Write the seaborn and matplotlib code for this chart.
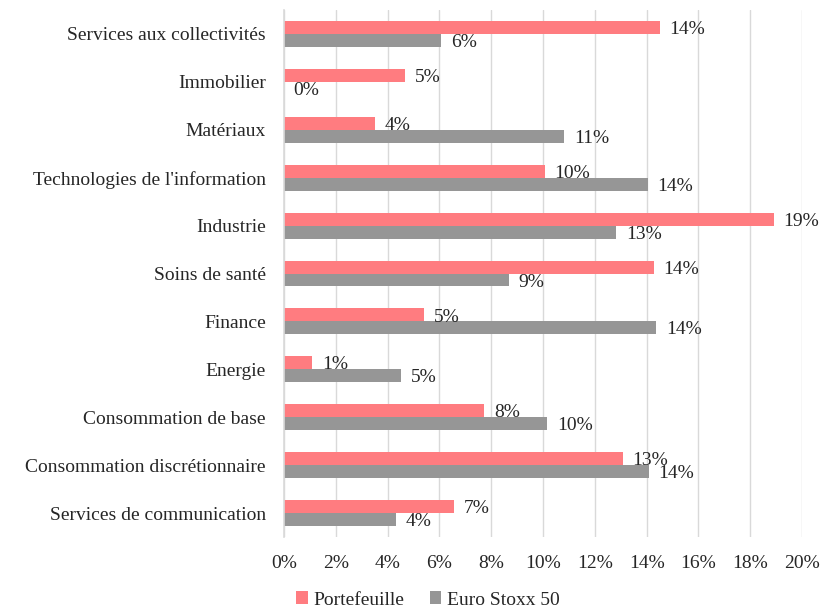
import matplotlib
matplotlib.use("Agg")
import matplotlib.pyplot as plt
from matplotlib.patches import Patch
from matplotlib.ticker import FuncFormatter, MultipleLocator
import seaborn as sns
import pandas as pd

categories = [
    "Services aux collectivités",
    "Immobilier",
    "Matériaux",
    "Technologies de l'information",
    "Industrie",
    "Soins de santé",
    "Finance",
    "Energie",
    "Consommation de base",
    "Consommation discrétionnaire",
    "Services de communication",
]
portefeuille = [14.5, 4.69, 3.52, 10.07, 18.91, 14.27, 5.42, 1.09, 7.74, 13.08, 6.56]
euro_stoxx = [6.07, 0.0, 10.82, 14.05, 12.83, 8.67, 14.38, 4.51, 10.16, 14.08, 4.33]
series_names = ["Portefeuille", "Euro Stoxx 50"]
colors = ["#FF7C80", "#969696"]

df = pd.DataFrame({
    "Secteur": categories * 2,
    "Valeur": portefeuille + euro_stoxx,
    "Série": [series_names[0]] * len(categories) + [series_names[1]] * len(categories),
})

sns.set_style("white")
plt.rcParams["font.family"] = ["Liberation Serif", "DejaVu Serif"]

FS = 14
TXT = "#262626"

fig = plt.figure(figsize=(8.23, 6.09), dpi=100)
ax = fig.add_axes([284 / 823, 1 - 537 / 609, (802 - 284) / 823, (537 - 10) / 609])

sns.barplot(data=df, y="Secteur", x="Valeur", hue="Série", order=categories,
            hue_order=series_names, palette=colors, orient="h", width=0.54,
            saturation=1, legend=False, linewidth=0, ax=ax)

for cont in ax.containers:
    for b in cont:
        w = b.get_width()
        yc = b.get_y() + b.get_height() / 2
        ax.annotate(f"{w:.0f}%", xy=(w, yc), xytext=(7, -1.5), textcoords="offset points",
                    ha="left", va="center", fontsize=FS, color=TXT)

ax.set_xlim(0, 20)
ax.xaxis.set_major_locator(MultipleLocator(2))
ax.xaxis.set_major_formatter(FuncFormatter(lambda v, p: f"{v:.0f}%"))
ax.grid(axis="x", color="#D9D9D9", linewidth=1)
ax.set_axisbelow(True)
for s in ["top", "right", "bottom"]:
    ax.spines[s].set_visible(False)
ax.spines["left"].set_color("#D9D9D9")
ax.spines["left"].set_linewidth(1.2)
ax.set_xlabel("")
ax.set_ylabel("")
ax.tick_params(axis="both", length=0, labelsize=FS, colors=TXT)
ax.tick_params(axis="x", pad=13)
ax.tick_params(axis="y", pad=13)

handles = [Patch(facecolor=c, edgecolor="none") for c in colors]
fig.legend(handles, series_names, loc="center", bbox_to_anchor=(428 / 823, 1 - 600 / 609),
           ncol=2, frameon=False, fontsize=FS, handlelength=0.6, handleheight=0.6,
           handletextpad=0.3, columnspacing=1.3, labelcolor=TXT)

fig.savefig("out.png", dpi=100)
